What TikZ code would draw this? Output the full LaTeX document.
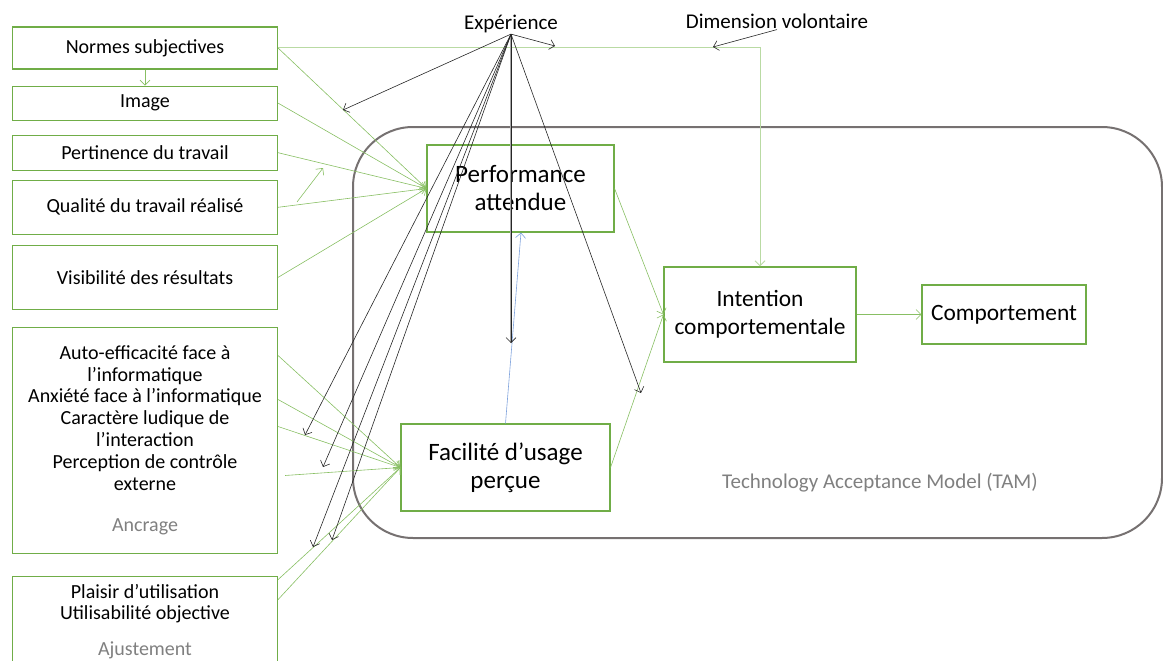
\documentclass[tikz,border=0pt]{standalone}
\usepackage{fontspec}
\setmainfont{Carlito}
\usetikzlibrary{positioning,arrows.meta}
\definecolor{boxgreen}{HTML}{70AD47}
\definecolor{linegreen}{HTML}{88BF63}
\definecolor{palegreen}{HTML}{B9DAA3}
\definecolor{linkblue}{HTML}{7EA2DC}
\definecolor{tamgray}{HTML}{767171}
\definecolor{notegray}{HTML}{808080}

\begin{document}
\begin{tikzpicture}[x=1pt, y=-1pt,
  >={Straight Barb[length=5pt,width=10pt]},
  factor/.style={draw=boxgreen, line width=1.1pt, rectangle, minimum width=265pt, align=center, font=\fontsize{20}{21.8}\selectfont},
  core/.style={draw=boxgreen, line width=1.1pt, rectangle, align=center},
  note/.style={font=\fontsize{21}{24}\selectfont, inner sep=1pt},
  garrow/.style={->, draw=linegreen, line width=0.6pt},
  karrow/.style={->, draw=black!85, line width=0.6pt}]

\useasboundingbox (0,0) rectangle (1163,661);

% TAM frame
\node[draw=tamgray, line width=2pt, rounded corners=60pt, minimum width=809pt, minimum height=411pt] (tam) at (757.5,332.5) {};
\node[note, text=notegray] (tamlabel) at (880,483) {Technology Acceptance Model (TAM)};

% Left factors
\node[factor, minimum height=42pt] (normes) at (145,48) {Normes subjectives};
\node[factor, minimum height=34pt, below=16pt of normes] (image) {Image};
\node[factor, minimum height=35pt, below=14pt of image] (pertinence) {Pertinence du travail};
\node[factor, minimum height=54pt, below=9pt of pertinence] (qualite) {Qualité du travail réalisé};
\node[factor, minimum height=64pt, below=10pt of qualite] (visibilite) {Visibilité des résultats};
\node[factor, minimum height=226pt, below=17pt of visibilite] (ancrage) {Auto-efficacité face à\\l’informatique\\Anxiété face à l’informatique\\Caractère ludique de\\l’interaction\\Perception de contrôle\\externe\\[20pt]{\color{notegray}Ancrage}};
\node[factor, minimum height=90pt, below=22pt of ancrage] (ajustement) {Plaisir d’utilisation\\Utilisabilité objective\\[14pt]{\color{notegray}Ajustement}};

% TAM nodes
\node[core, minimum width=187pt, minimum height=87pt, font=\fontsize{25}{28}\selectfont] (perf) at (520.5,188.5) {Performance\\attendue};
\node[core, minimum width=209pt, minimum height=87pt, font=\fontsize{25}{28}\selectfont] (facil) at (505.5,467.5) {Facilité d’usage\\perçue};
\node[core, minimum width=192pt, minimum height=95pt, font=\fontsize{23.4}{28}\selectfont] (intention) at (760,314.5) {Intention\\comportementale};
\node[core, minimum width=164pt, minimum height=59pt, font=\fontsize{23.4}{28}\selectfont] (comport) at (1004,314.5) {Comportement};

% Moderators
\node[note] (exp) at (511,24) {Expérience};
\node[note] (dim) at (777,21) {Dimension volontaire};

% Arrow ends on other links
\coordinate (e1) at (555,46);
\coordinate (e2) at (343,110);
\coordinate (e3) at (511,343);
\coordinate (e4) at (641,393);
\coordinate (e5) at (305,435);
\coordinate (e6) at (323,467);
\coordinate (e7) at (313,547);
\coordinate (e8) at (332,540);
\coordinate (dv) at (713,47);
\coordinate (q1) at (297,202);
\coordinate (q2) at (323,168);

% Green links
\draw[palegreen, line width=1pt, ->] (normes.east) -| (intention.north);
\draw[garrow] (normes.south) -- (image.north);
\foreach \src in {normes,image,pertinence,qualite,visibilite}
    \draw[garrow] (\src.east) -- (perf.west);
\foreach \dy in {85,41,14}
    \draw[garrow] ([yshift=\dy pt]ancrage.east) -- (facil.west);
\draw[garrow] ([xshift=7pt,yshift=-35pt]ancrage.east) -- (facil.west);
\foreach \dy in {42,22}
    \draw[garrow] ([yshift=\dy pt]ajustement.east) -- (facil.west);
\draw[garrow] (q1) -- (q2);
\draw[garrow] (perf.east) -- (intention.west);
\draw[garrow] (facil.east) -- (intention.west);
\draw[garrow] (intention.east) -- (comport.west);
\draw[->, linkblue, line width=0.6pt] (facil.north) -- ([xshift=0.5pt]perf.south);

% Experience links
\draw[gray!70, line width=1.3pt] (exp.south) -- (e3);
\foreach \e in {e1,e2,e3,e4,e5,e6,e7,e8}
    \draw[karrow] (exp.south) -- (\e);
\draw[karrow] (dim.south) -- (dv);
\end{tikzpicture}
\end{document}
